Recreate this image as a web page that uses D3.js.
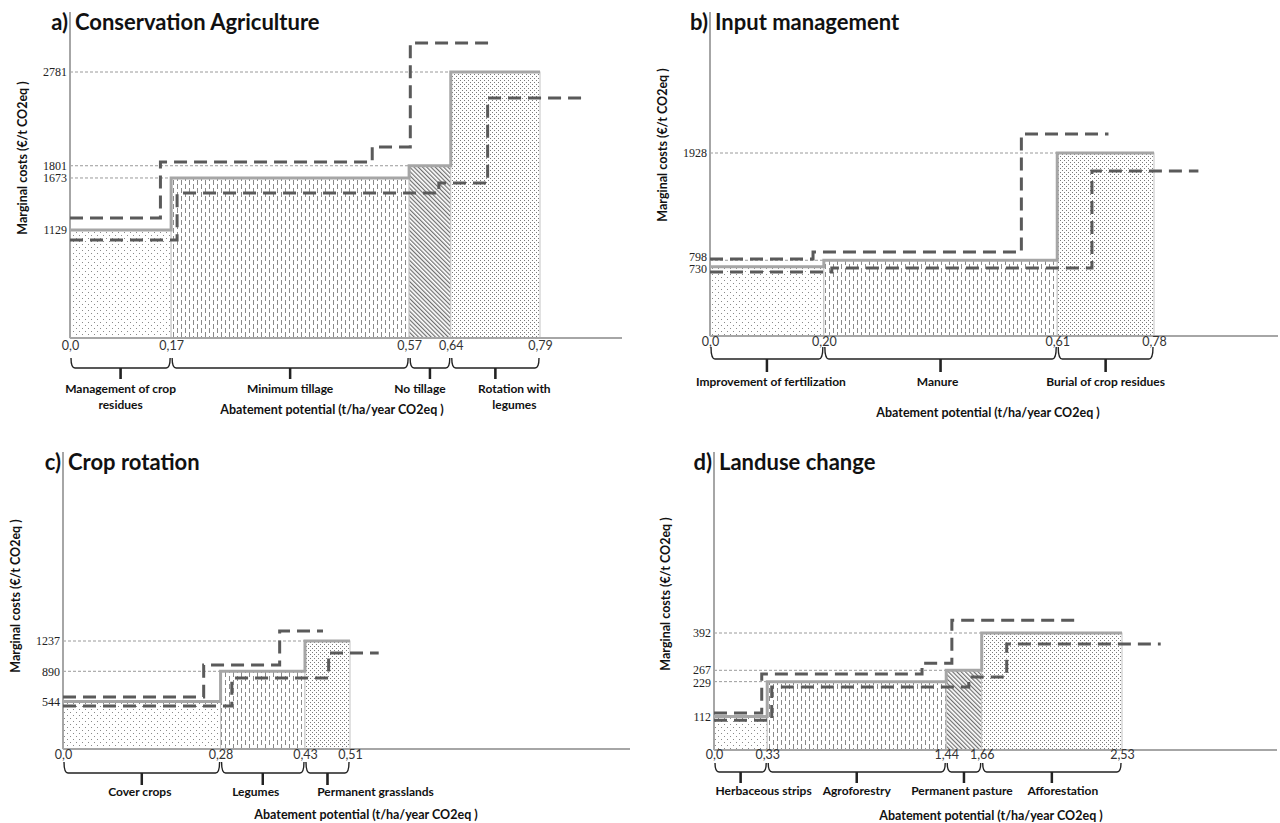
<!DOCTYPE html>
<html>
<head>
<meta charset="utf-8">
<script src="https://cdn.jsdelivr.net/npm/d3@7"></script>
<style>
  body { margin: 0; background: #fff; }
  svg { display: block; }
  .panel-title { font-family: Lato, 'Open Sans', sans-serif; font-weight: 700; font-size: 22px; fill: #111; }
  .axis-title { font-family: Lato, 'Open Sans', sans-serif; font-weight: 700; font-size: 12.5px; fill: #111; }
  .measure-label { font-family: Lato, 'Open Sans', sans-serif; font-weight: 700; font-size: 12px; fill: #111; }
</style>
</head>
<body>
<svg id="chart" width="1280" height="823"></svg>
<script>
// a) Conservation Agriculture
var caMeasures = ['Management of crop\nresidues', 'Minimum tillage', 'No tillage', 'Rotation with\nlegumes'];
var caBreaks = [0, 0.17, 0.57, 0.64, 0.79];
var caXTicks = ['0,0', '0,17', '0,57', '0,64', '0,79'];
var caCosts = [1129, 1673, 1801, 2781];
var caUpperBreaks = [0, 0.152, 0.508, 0.572, 0.710];
var caUpper = [1254, 1839, 1996, 3083];
var caLowerBreaks = [0, 0.18, 0.62, 0.702, 0.867];
var caLower = [1024, 1515, 1620, 2508];

// b) Input management
var imMeasures = ['Improvement of fertilization', 'Manure', 'Burial of crop residues'];
var imBreaks = [0, 0.20, 0.61, 0.78];
var imXTicks = ['0,0', '0,20', '0,61', '0,78'];
var imCosts = [730, 798, 1928];
var imUpperBreaks = [0, 0.181, 0.547, 0.70];
var imUpper = [811, 885, 2128];
var imLowerBreaks = [0, 0.214, 0.671, 0.858];
var imLower = [674, 717, 1739];

// c) Crop rotation
var crMeasures = ['Cover crops', 'Legumes', 'Permanent grasslands'];
var crBreaks = [0, 0.28, 0.43, 0.51];
var crXTicks = ['0,0', '0,28', '0,43', '0,51'];
var crCosts = [544, 890, 1237];
var crUpperBreaks = [0, 0.25, 0.385, 0.462];
var crUpper = [596, 962, 1352];
var crLowerBreaks = [0, 0.30, 0.472, 0.561];
var crLower = [493, 813, 1100];

// d) Landuse change
var luMeasures = ['Herbaceous strips', 'Agroforestry', 'Permanent pasture', 'Afforestation'];
var luBreaks = [0, 0.33, 1.44, 1.66, 2.53];
var luXTicks = ['0,0', '0,33', '1,44', '1,66', '2,53'];
var luCosts = [112, 229, 267, 392];
var luUpperBreaks = [0, 0.296, 1.29, 1.475, 2.27];
var luUpper = [124, 255, 291, 435];
var luLowerBreaks = [0, 0.358, 1.58, 1.815, 2.77];
var luLower = [100, 211, 245, 355];

var yTitle = 'Marginal costs (€/t CO2eq )';
var xTitle = 'Abatement potential (t/ha/year CO2eq )';

var panels = [
  { letter: 'a)', title: 'Conservation Agriculture',
    measures: caMeasures, breaks: caBreaks, xTicks: caXTicks, costs: caCosts,
    upperBreaks: caUpperBreaks, upper: caUpper, lowerBreaks: caLowerBreaks, lower: caLower,
    fills: ['dotsSparse', 'dashesV', 'hatch', 'dotsDense'], labelDx: [0, 0, -10, 19],
    yLabelNudge: [0, 0, 0, 0],
    axisX: 70, baseY: 338, axisTop: 12, xEnd: 540, yTop: 72, baseRight: 622, titleBase: 30,
    yTitlePos: [22, 158], bracket: [20, 30, 41], labelDy: 50, lineH: 16, xTitlePos: [332, 409], xPad: 3 },
  { letter: 'b)', title: 'Input management',
    measures: imMeasures, breaks: imBreaks, xTicks: imXTicks, costs: imCosts,
    upperBreaks: imUpperBreaks, upper: imUpper, lowerBreaks: imLowerBreaks, lower: imLower,
    fills: ['dotsSparse', 'dashesV', 'dotsDense'], labelDx: [4, -3, 0],
    yLabelNudge: [2, -4, 0],
    axisX: 710, baseY: 336, axisTop: 12, xEnd: 1154, yTop: 153, baseRight: 1278, titleBase: 30,
    yTitlePos: [662, 145], bracket: [11, 23, 36], labelDy: 45, lineH: 16, xTitlePos: [988, 412], xPad: 1 },
  { letter: 'c)', title: 'Crop rotation',
    measures: crMeasures, breaks: crBreaks, xTicks: crXTicks, costs: crCosts,
    upperBreaks: crUpperBreaks, upper: crUpper, lowerBreaks: crLowerBreaks, lower: crLower,
    fills: ['dotsSparse', 'dashesV', 'dotsDense'], labelDx: [-2, -7, 48],
    yLabelNudge: [0, 0, 0],
    axisX: 63, baseY: 749, axisTop: 452, xEnd: 350, yTop: 641, baseRight: 630, titleBase: 470,
    yTitlePos: [15, 596], bracket: [13, 24, 36], labelDy: 42, lineH: 16, xTitlePos: [366, 814], xPad: 1 },
  { letter: 'd)', title: 'Landuse change',
    measures: luMeasures, breaks: luBreaks, xTicks: luXTicks, costs: luCosts,
    upperBreaks: luUpperBreaks, upper: luUpper, lowerBreaks: luLowerBreaks, lower: luLower,
    fills: ['dotsSparse', 'dashesV', 'hatch', 'dotsDense'], labelDx: [23, 0, -2, 11],
    yLabelNudge: [0, 1, -1, 0],
    axisX: 714, baseY: 750, axisTop: 452, xEnd: 1122, yTop: 633, baseRight: 1277, titleBase: 470,
    yTitlePos: [665, 594], bracket: [13, 22, 33], labelDy: 40, lineH: 16, xTitlePos: [991, 815], xPad: 0 }
];

var svg = d3.select('#chart');
var defs = svg.append('defs');

function addPattern(id, w, h, transform) {
  var p = defs.append('pattern')
    .attr('id', id)
    .attr('patternUnits', 'userSpaceOnUse')
    .attr('width', w)
    .attr('height', h);
  if (transform) p.attr('patternTransform', transform);
  p.append('rect').attr('width', w).attr('height', h).attr('fill', '#fff');
  return p;
}

function dot(p, x, y, w, h, c) {
  p.append('rect').attr('x', x).attr('y', y).attr('width', w).attr('height', h).attr('fill', c);
}

var sparse = addPattern('dotsSparse', 6, 6);
dot(sparse, 1, 1, 1, 1, '#8a8a8a');
dot(sparse, 4, 4, 1, 1, '#8a8a8a');

var dense = addPattern('dotsDense', 4, 4);
dot(dense, 0, 0, 1, 1, '#7a7a7a');
dot(dense, 2, 2, 1, 1, '#7a7a7a');

var dashes = addPattern('dashesV', 8, 8);
dot(dashes, 1, 0, 1, 5, '#8a8a8a');
dot(dashes, 5, 4, 1, 4, '#8a8a8a');
dot(dashes, 5, 0, 1, 1, '#8a8a8a');

var hatch = addPattern('hatch', 3, 3, 'rotate(-45)');
dot(hatch, 0, 0, 1.2, 3, '#6f6f6f');

var stepLine = d3.line().curve(d3.curveStepAfter);

panels.forEach(drawPanel);

function drawPanel(p) {
  var g = svg.append('g');
  var n = p.costs.length;

  var x = d3.scaleLinear().domain([0, p.breaks[n]]).range([p.axisX, p.xEnd]);
  var y = d3.scaleLinear().domain([0, d3.max(p.costs)]).range([p.baseY, p.yTop]);

  var bars = p.costs.map(function(c, i) {
    return { x0: p.breaks[i], x1: p.breaks[i + 1], cost: c, fill: p.fills[i], name: p.measures[i], dx: p.labelDx[i] };
  });

  g.selectAll('rect.bar')
    .data(bars)
    .enter()
    .append('rect')
    .attr('class', 'bar')
    .attr('x', function(d) { return x(d.x0); })
    .attr('y', function(d) { return y(d.cost); })
    .attr('width', function(d) { return x(d.x1) - x(d.x0); })
    .attr('height', function(d) { return y(0) - y(d.cost); })
    .attr('fill', function(d) { return 'url(#' + d.fill + ')'; })
    .attr('stroke', '#c4c4c4')
    .attr('stroke-width', 1);

  // thin guide lines from the axis to each step
  g.selectAll('line.ref')
    .data(bars.slice(1))
    .enter()
    .append('line')
    .attr('class', 'ref')
    .attr('x1', x(0))
    .attr('x2', function(d) { return x(d.x0); })
    .attr('y1', function(d) { return y(d.cost); })
    .attr('y2', function(d) { return y(d.cost); })
    .attr('stroke', '#9a9a9a')
    .attr('stroke-width', 1)
    .attr('stroke-dasharray', '3,2');

  // axis lines
  g.append('line')
    .attr('x1', p.axisX).attr('x2', p.axisX)
    .attr('y1', p.axisTop).attr('y2', p.baseY)
    .attr('stroke', '#a6a6a6').attr('stroke-width', 2);
  g.append('line')
    .attr('x1', p.axisX).attr('x2', p.baseRight)
    .attr('y1', p.baseY).attr('y2', p.baseY)
    .attr('stroke', '#a6a6a6').attr('stroke-width', 2);

  // cost curve outline
  var mainPts = p.costs.map(function(c, i) { return [x(p.breaks[i]), y(c)]; });
  mainPts.push([x(p.breaks[n]), y(p.costs[n - 1])]);
  g.append('path')
    .attr('d', stepLine(mainPts))
    .attr('fill', 'none')
    .attr('stroke', '#a6a6a6')
    .attr('stroke-width', 3);

  // upper and lower range curves
  [[p.upperBreaks, p.upper], [p.lowerBreaks, p.lower]].forEach(function(s) {
    var pts = s[1].map(function(v, i) { return [x(s[0][i]), y(v)]; });
    pts.push([x(s[0][s[1].length]), y(s[1][s[1].length - 1])]);
    g.append('path')
      .attr('d', stepLine(pts))
      .attr('fill', 'none')
      .attr('stroke', '#5a5a5a')
      .attr('stroke-width', 3)
      .attr('stroke-dasharray', '13,7');
  });

  // y ticks
  var yAxis = d3.axisLeft(y)
    .tickValues(p.costs)
    .tickSize(0)
    .tickPadding(3)
    .tickFormat(d3.format('d'));
  var ya = g.append('g')
    .attr('transform', 'translate(' + p.axisX + ',0)')
    .call(yAxis);
  ya.select('.domain').remove();
  ya.selectAll('text')
    .attr('font-family', "'Liberation Serif', serif")
    .attr('font-size', 12)
    .attr('fill', '#222')
    .attr('y', function(d, i) { return p.yLabelNudge[i]; });

  // x ticks
  var xAxis = d3.axisBottom(x)
    .tickValues(p.breaks)
    .tickSize(0)
    .tickPadding(p.xPad)
    .tickFormat(function(d, i) { return p.xTicks[i]; });
  var xa = g.append('g')
    .attr('transform', 'translate(0,' + p.baseY + ')')
    .call(xAxis);
  xa.select('.domain').remove();
  xa.selectAll('text')
    .attr('font-family', "Lato, 'Open Sans', sans-serif")
    .attr('font-size', 12.5)
    .attr('fill', '#333');

  // braces under each measure
  var bTop = p.baseY + p.bracket[0],
      bMid = p.baseY + p.bracket[1],
      bEnd = p.baseY + p.bracket[2];
  g.selectAll('path.brace')
    .data(bars)
    .enter()
    .append('path')
    .attr('class', 'brace')
    .attr('d', function(d) {
      var a = x(d.x0) + 1, b = x(d.x1) - 1, m = (a + b) / 2;
      return 'M' + a + ',' + bTop +
        'Q' + a + ',' + bMid + ' ' + (a + 4) + ',' + bMid +
        'H' + (b - 4) +
        'Q' + b + ',' + bMid + ' ' + b + ',' + bTop +
        'M' + m + ',' + bMid + 'V' + bEnd;
    })
    .attr('fill', 'none')
    .attr('stroke', '#222')
    .attr('stroke-width', 1.4);
  g.selectAll('line.brace-tip')
    .data(bars)
    .enter()
    .append('line')
    .attr('x1', function(d) { return (x(d.x0) + x(d.x1)) / 2; })
    .attr('x2', function(d) { return (x(d.x0) + x(d.x1)) / 2; })
    .attr('y1', bMid)
    .attr('y2', bEnd)
    .attr('stroke', '#222')
    .attr('stroke-width', 2.5);

  // measure labels
  var labels = g.selectAll('text.measure-label')
    .data(bars)
    .enter()
    .append('text')
    .attr('class', 'measure-label')
    .attr('text-anchor', 'middle')
    .attr('x', function(d) { return (x(d.x0) + x(d.x1)) / 2 + d.dx; })
    .attr('y', p.baseY + p.labelDy)
    .attr('dominant-baseline', 'central');
  labels.each(function(d) {
    var t = d3.select(this);
    var cx = (x(d.x0) + x(d.x1)) / 2 + d.dx;
    d.name.split('\n').forEach(function(line, k) {
      t.append('tspan')
        .attr('x', cx)
        .attr('dy', k === 0 ? 0 : p.lineH)
        .text(line);
    });
  });

  // titles
  g.append('text')
    .attr('class', 'panel-title')
    .attr('x', p.axisX - 2)
    .attr('y', p.titleBase)
    .attr('text-anchor', 'end')
    .text(p.letter);
  g.append('text')
    .attr('class', 'panel-title')
    .attr('x', p.axisX + 5)
    .attr('y', p.titleBase)
    .text(p.title);

  g.append('text')
    .attr('class', 'axis-title')
    .attr('text-anchor', 'middle')
    .attr('dominant-baseline', 'central')
    .attr('transform', 'translate(' + p.yTitlePos[0] + ',' + p.yTitlePos[1] + ') rotate(-90)')
    .text(yTitle);

  g.append('text')
    .attr('class', 'axis-title')
    .attr('text-anchor', 'middle')
    .attr('dominant-baseline', 'central')
    .attr('x', p.xTitlePos[0])
    .attr('y', p.xTitlePos[1])
    .text(xTitle);
}
</script>
</body>
</html>
